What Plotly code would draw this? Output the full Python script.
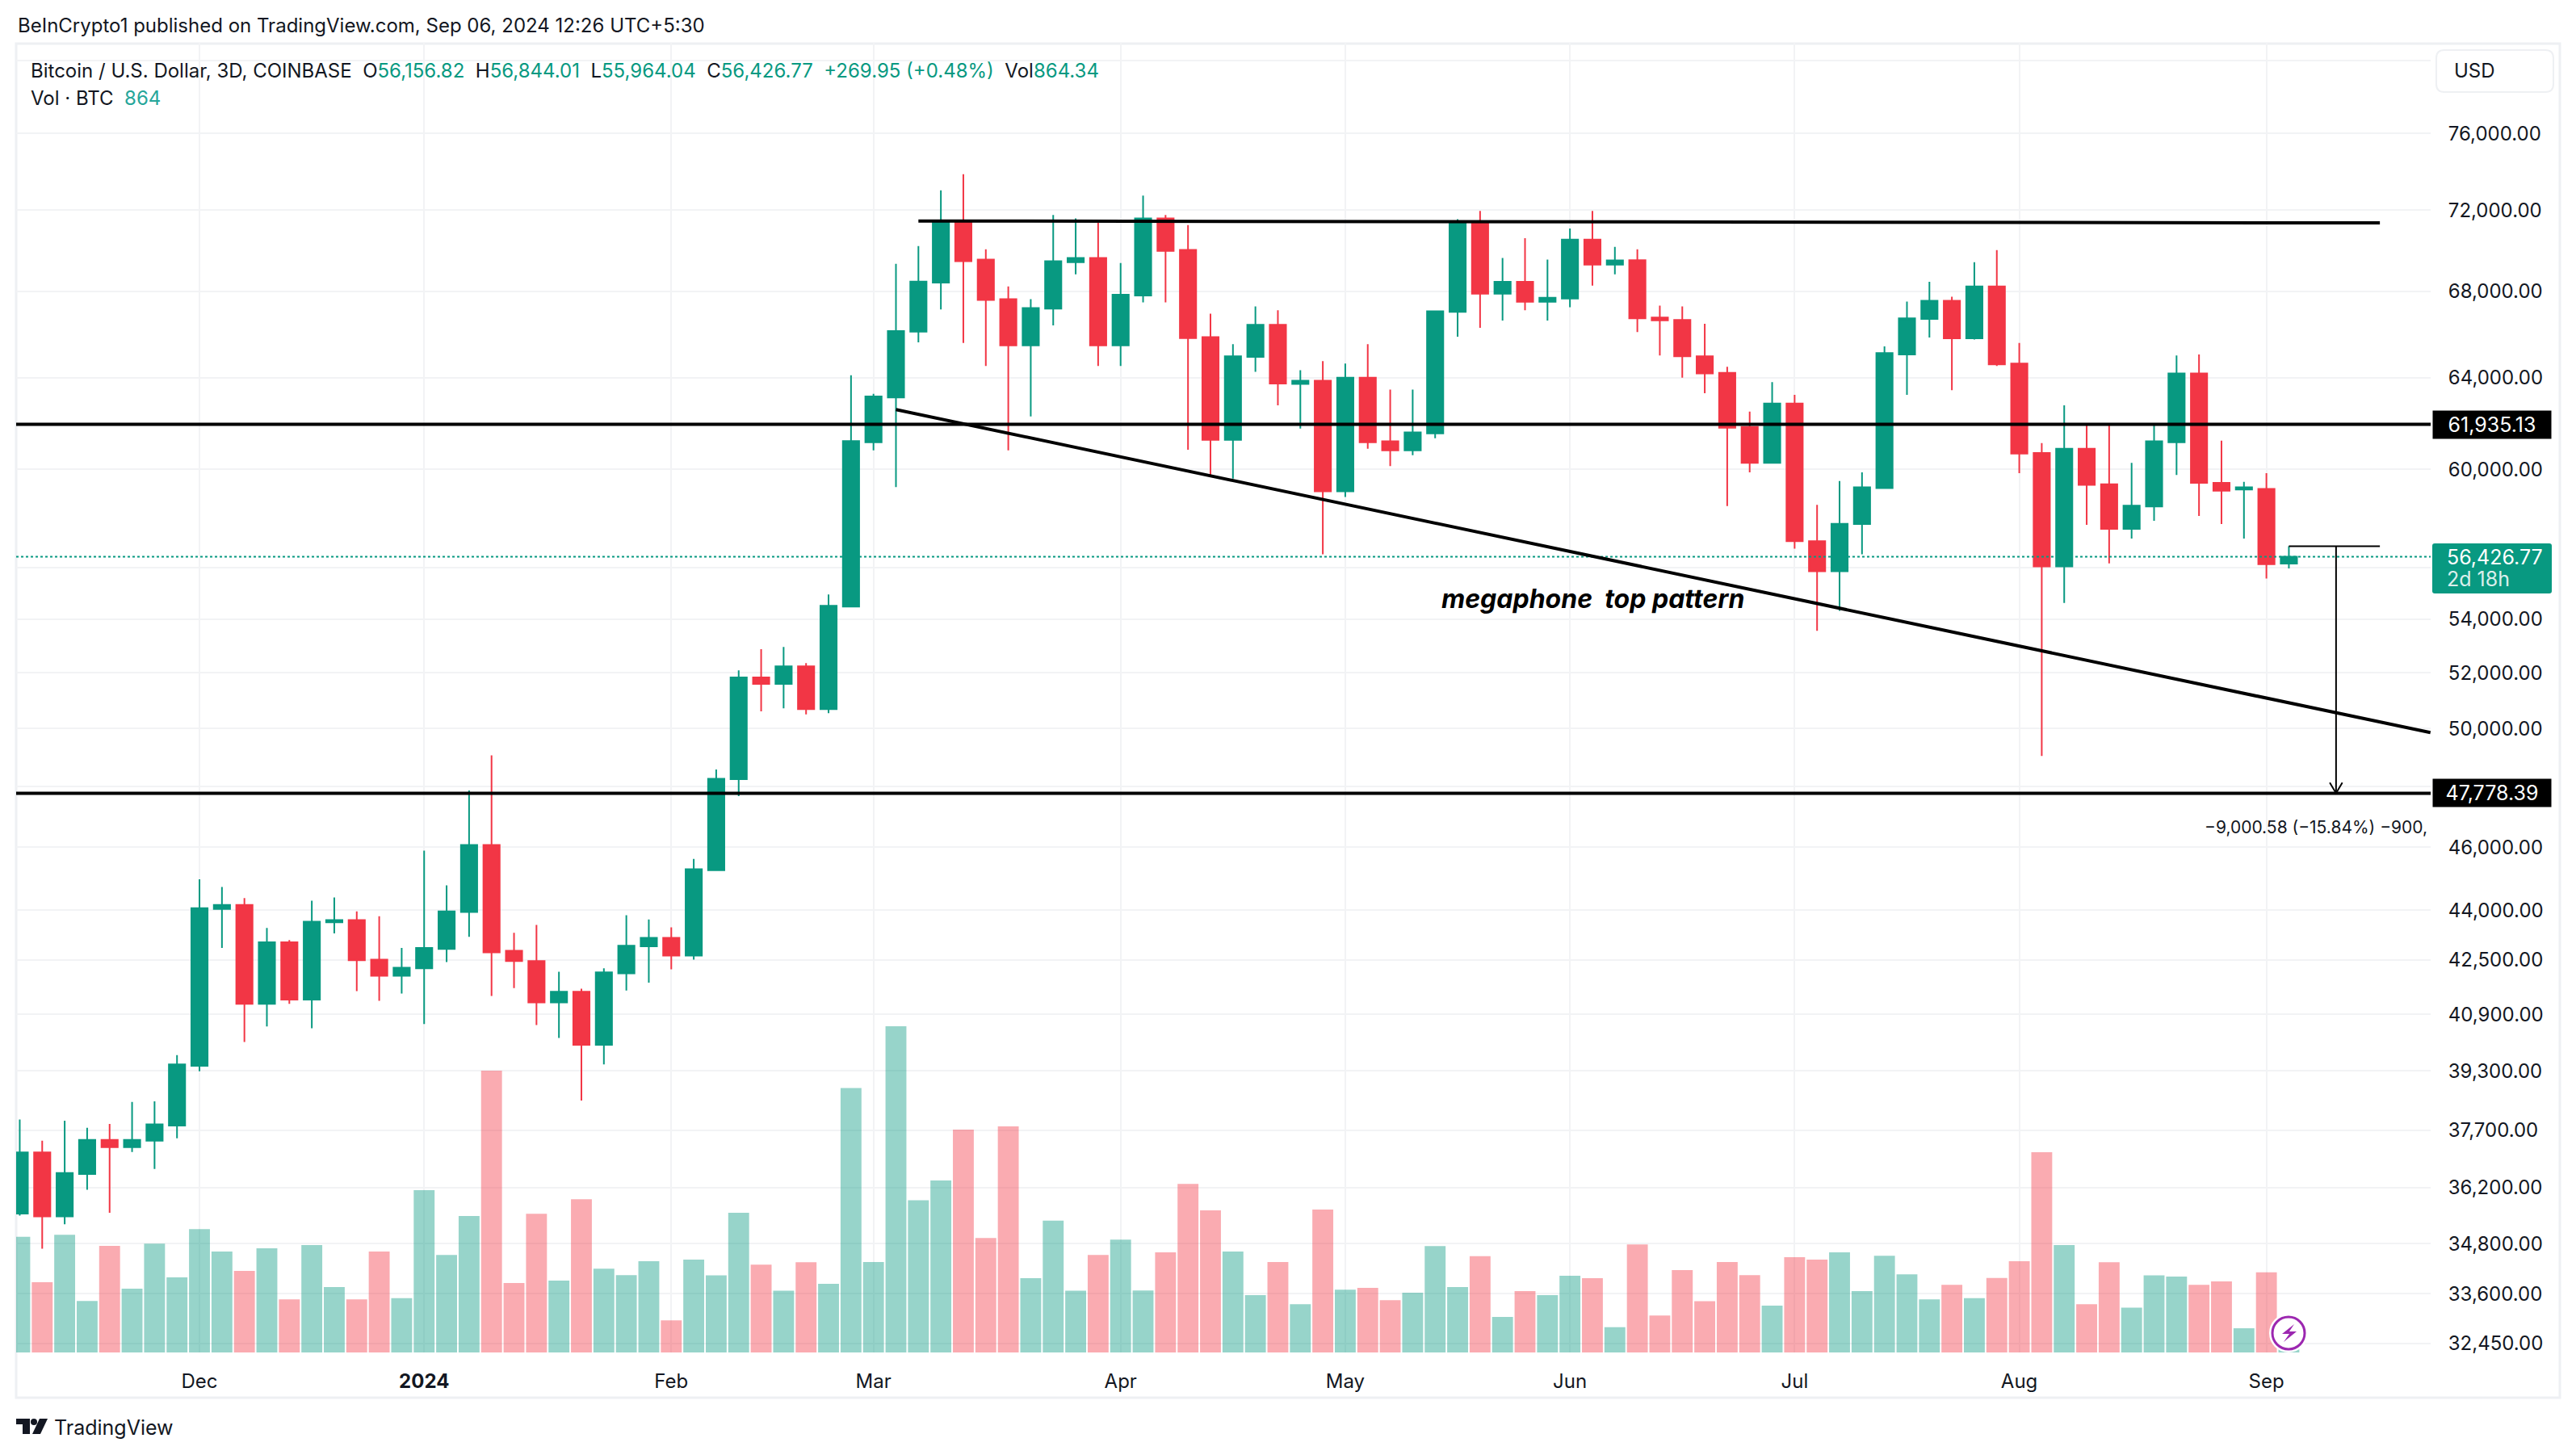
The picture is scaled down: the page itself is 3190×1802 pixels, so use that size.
import math

import pandas as pd
import plotly.graph_objects as go

WIDTH = 3190
HEIGHT = 1802
UP = "#089981"
DOWN = "#F23645"
TEXT = "#131722"
GRID = "#f2f3f5"
FONT = "Inter"

opens = [
    35550, 37110, 35480, 36550, 37440, 37250, 37420, 37820, 39440, 44045, 44170, 41200, 43020, 41320, 43630, 43700, 42500,
    42020, 42240, 42820, 43950, 46070, 42770, 42460, 41240, 41550, 40030, 42090, 42900, 43160, 42620, 45260, 48250, 51830,
    51600, 52240, 50690, 54480, 61160, 63120, 66110, 68430, 71440, 69540, 67630, 65470, 67180, 69420, 69620, 65470, 67810,
    71590, 70020, 65850, 61260, 64940, 66430, 63720, 63860, 59080, 64000, 61200, 60810, 61540, 67030, 71390, 67890, 68470,
    67510, 67660, 70530, 69300, 69510, 66770, 66650, 64970, 64220, 61820, 60280, 62850, 57050, 55850, 57740, 59220, 65050,
    66700, 67560, 65800, 68240, 64640, 60700, 56040, 60880, 59380, 57540, 58460, 61160, 64190, 59440, 59160, 59180, 56156.82,
]
highs = [
    37980, 37420, 37950, 37760, 37860, 38450, 38470, 39740, 44970, 44730, 44380, 43460, 43090, 44300, 44400, 43970, 43820,
    42850, 45890, 44780, 47870, 49070, 43310, 43550, 42140, 41640, 42240, 43850, 43720, 43480, 45620, 48580, 52090, 52870,
    52960, 52360, 54950, 64105, 63280, 69340, 70210, 73010, 73850, 70050, 68240, 67630, 71760, 71590, 71360, 69380, 72750,
    71760, 71250, 66950, 65530, 67290, 67110, 64340, 64750, 64640, 65530, 63470, 63470, 67100, 71550, 71960, 69620, 70600,
    69540, 71080, 71960, 70170, 70050, 67330, 67290, 66470, 64490, 62490, 63800, 63230, 58520, 59510, 59880, 65420, 67520,
    68470, 67750, 69420, 70010, 65580, 61120, 62770, 61930, 61890, 60280, 61930, 65010, 65050, 61230, 59480, 59840, 56844.01,
]
lows = [
    35500, 34680, 35280, 36150, 35570, 37120, 36680, 37480, 39290, 42850, 40110, 40550, 41200, 40500, 43290, 41570, 41290,
    41500, 40620, 42430, 43190, 41430, 41660, 40590, 40220, 38490, 39480, 41590, 41820, 42210, 42500, 45240, 47680, 50610,
    50720, 50500, 50550, 54450, 60810, 59260, 65610, 67150, 65580, 64530, 60810, 62280, 66400, 68830, 64530, 64530, 67480,
    67480, 60840, 59690, 59610, 64260, 62770, 61750, 56520, 58850, 60880, 60140, 60600, 61330, 65870, 66280, 66620, 67110,
    66620, 67250, 68280, 68830, 66090, 65010, 64000, 63300, 58470, 59880, 60250, 56750, 53560, 54320, 56520, 59180, 63230,
    65830, 63440, 65740, 64530, 59840, 49050, 54620, 57710, 56160, 57150, 57870, 59770, 58070, 57740, 57150, 55570, 55964.04,
]
closes = [
    37110, 35480, 36580, 37440, 37250, 37440, 37850, 39480, 44070, 44170, 41200, 43020, 41320, 43650, 43700, 42480, 42020,
    42260, 42850, 43970, 46070, 42720, 42460, 41240, 41550, 40030, 42120, 42920, 43160, 42620, 45290, 48270, 51830, 51600,
    52240, 50690, 54510, 61210, 63160, 66130, 68480, 71470, 69460, 67600, 65470, 67210, 69460, 69620, 65470, 67850, 71590,
    69970, 65810, 61260, 64970, 66430, 63740, 63860, 59080, 64000, 61160, 60810, 61580, 67060, 71390, 67890, 68470, 67510,
    67700, 70530, 69300, 69500, 66730, 66630, 64970, 64190, 61790, 60280, 62850, 57050, 55850, 57750, 59250, 65120, 66730,
    67560, 65800, 68240, 64600, 60670, 56040, 60880, 59350, 57540, 58490, 61200, 64190, 59440, 59110, 59250, 56130, 56426.77,
]
volumes = [
    21000, 12745, 21360, 9340, 19350, 11560, 19760, 13620, 22390, 18320, 14810, 18890, 9650, 19500, 11870, 9650, 18320,
    9860, 29460, 17700, 24770, 51140, 12590, 25180, 13050, 27810, 15220, 14040, 16560, 5830, 16870, 13980, 25340, 15940,
    11200, 16360, 12440, 47990, 16410, 59190, 27610, 31220, 40450, 20790, 41020, 13470, 23940, 11200, 17700, 20490, 11250,
    18160, 30600, 25800, 18320, 10420, 16410, 8770, 25950, 11400, 11710, 9490, 10840, 19300, 11870, 17490, 6450, 11150,
    10420, 13930, 13470, 4590, 19610, 6710, 14960, 9290, 16410, 14040, 8510, 17290, 16870, 18160, 11150, 17540, 14190,
    9650, 12280, 9860, 13520, 16560, 36330, 19500, 8770, 16360, 8150, 13980, 13780, 12280, 12900, 4390, 14550, 864,
]

price_ticks = [
    32450, 33600, 34800, 36200, 37700, 39300, 40900, 42500, 44000, 46000, 48000, 50000, 52000, 54000, 56000, 60000, 64000,
    68000, 72000, 76000, 80000,
]
hidden_price_ticks = [56000, 80000]
month_bars = [8, 18, 29, 38, 49, 59, 69, 79, 89, 100]
month_labels = ["Dec", "<b>2024</b>", "Feb", "Mar", "Apr", "May", "Jun", "Jul", "Aug", "Sep"]

support_level = 47778.39
middle_level = 61935.13
last_price = 56426.77
top_line_bars = [40, 105.05]
top_line_prices = [71460, 71360]
trend_line_bars = [39, 107.3]
trend_line_prices = [62580, 49860]
target_bars = [101, 105.05]
target_top = 56844.01
arrow_bar = 103.1

dates = pd.date_range("2023-11-08", periods=len(closes), freq="3D")


def bar_date(i):
    return dates[0] + pd.Timedelta(days=3 * i)


def px(x):
    return x / WIDTH


def py(y):
    return 1 - y / HEIGHT


def path(points):
    return "M " + " L ".join(f"{px(x):.5f},{py(y):.5f}" for x, y in points) + " Z"


def round_rect(x0, y0, x1, y1, r):
    a, b, c, d = px(x0), py(y0), px(x1), py(y1)
    rx, ry = r / WIDTH, r / HEIGHT
    return (
        f"M {a + rx:.5f},{b:.5f} L {c - rx:.5f},{b:.5f} Q {c:.5f},{b:.5f} {c:.5f},{b - ry:.5f} "
        f"L {c:.5f},{d + ry:.5f} Q {c:.5f},{d:.5f} {c - rx:.5f},{d:.5f} L {a + rx:.5f},{d:.5f} "
        f"Q {a:.5f},{d:.5f} {a:.5f},{d + ry:.5f} L {a:.5f},{b - ry:.5f} Q {a:.5f},{b:.5f} {a + rx:.5f},{b:.5f} Z"
    )


def note(text, x, y, size=24, color=TEXT, xanchor="left", **kwargs):
    fig.add_annotation(
        text=text, x=px(x), y=py(y), xref="paper", yref="paper", xanchor=xanchor, yanchor="middle",
        showarrow=False, align="left", font=dict(family=FONT, size=size, color=color), **kwargs,
    )


def add_line(x, y, width=4, dash="solid", color="#000000"):
    fig.add_trace(
        go.Scatter(
            x=x, y=y, yaxis="y2", mode="lines", hoverinfo="skip", showlegend=False,
            line=dict(color=color, width=width, dash=dash),
        )
    )


pane_start = bar_date(-0.16)
pane_end = bar_date(107.31)

fig = go.Figure()
fig.add_trace(
    go.Bar(
        x=dates, y=volumes, yaxis="y", showlegend=False,
        marker=dict(
            color=[
                "rgba(8,153,129,0.42)" if c >= o else "rgba(242,54,69,0.42)" for o, c in zip(opens, closes)
            ],
            line=dict(width=0),
        ),
    )
)
fig.add_trace(
    go.Candlestick(
        x=dates, open=opens, high=highs, low=lows, close=closes, yaxis="y2", showlegend=False, whiskerwidth=0,
        increasing=dict(line=dict(color=UP, width=2), fillcolor=UP),
        decreasing=dict(line=dict(color=DOWN, width=2), fillcolor=DOWN),
    )
)
add_line([pane_start, pane_end], [last_price, last_price], width=2, dash="dot", color=UP)
add_line([pane_start, pane_end], [middle_level, middle_level])
add_line([pane_start, pane_end], [support_level, support_level])
add_line([bar_date(i) for i in top_line_bars], top_line_prices)
add_line([bar_date(i) for i in trend_line_bars], trend_line_prices)
add_line([bar_date(i) for i in target_bars], [target_top, target_top], width=2)
add_line([bar_date(arrow_bar), bar_date(arrow_bar)], [target_top, support_level], width=2)
add_line(
    [bar_date(arrow_bar - 0.28), bar_date(arrow_bar), bar_date(arrow_bar + 0.28)],
    [support_level * 1.0075, support_level, support_level * 1.0075],
    width=2,
)

fig.update_layout(
    width=WIDTH,
    height=HEIGHT,
    autosize=False,
    margin=dict(l=0, r=0, t=0, b=0, autoexpand=False),
    paper_bgcolor="white",
    plot_bgcolor="white",
    font=dict(family=FONT, size=24, color=TEXT),
    bargap=0.07,
    boxgap=0.15,
    boxgroupgap=0.15,
    xaxis=dict(
        domain=[px(20), px(3010)],
        type="date",
        range=[pane_start, pane_end],
        rangeslider=dict(visible=False),
        tickmode="array",
        tickvals=[dates[i] for i in month_bars],
        ticktext=month_labels,
        showgrid=True,
        gridcolor=GRID,
        gridwidth=2,
        zeroline=False,
        showline=False,
        ticks="outside",
        ticklen=14,
        tickcolor="rgba(0,0,0,0)",
        tickfont=dict(family=FONT, size=24, color=TEXT),
    ),
    yaxis=dict(
        domain=[py(1675), py(53)],
        range=[0, 237700],
        visible=False,
        showgrid=False,
        zeroline=False,
    ),
    yaxis2=dict(
        domain=[py(1675), py(53)],
        overlaying="y",
        anchor="x",
        side="right",
        type="log",
        range=[math.log10(32240), math.log10(81000)],
        tickmode="array",
        tickvals=price_ticks,
        ticktext=["" if t in hidden_price_ticks else f"{t:,.2f}" for t in price_ticks],
        showgrid=True,
        gridcolor=GRID,
        gridwidth=2,
        zeroline=False,
        showline=False,
        ticks="outside",
        ticklen=16,
        tickcolor="rgba(0,0,0,0)",
        tickfont=dict(family=FONT, size=24, color=TEXT),
    ),
)

# frame, currency box and price labels
fig.add_shape(type="rect", xref="paper", yref="paper", x0=px(20), x1=px(3170), y0=py(1731), y1=py(54),
              line=dict(color="#eef0f3", width=3), layer="below")
fig.add_shape(type="path", xref="paper", yref="paper", path=round_rect(3017, 62, 3162, 114, 10),
              fillcolor="white", line=dict(color="#eef0f3", width=2))
note("USD", 3037, 87, size=24)

for level, label in [(middle_level, "61,935.13"), (support_level, "47,778.39")]:
    fig.add_annotation(
        text=label, x=px(3012), xref="paper", y=math.log10(level), yref="y2", xanchor="left", yanchor="middle",
        showarrow=False, width=146, height=34, bgcolor="#000000", borderpad=0, align="center",
        font=dict(family=FONT, size=25, color="white"),
    )

fig.add_shape(type="path", xref="paper", yref="paper", path=round_rect(3012, 673, 3160, 735, 3),
              fillcolor=UP, line=dict(width=0))
note("56,426.77", 3028, 690, size=25, color="white")
note("2d 18h", 3028, 717, size=25, color="white", opacity=0.85)

# header and legend
note("BeInCrypto1 published on TradingView.com, Sep 06, 2024 12:26 UTC+5:30", 20, 32, size=24)
green = f'<span style="color:{UP}">'
note(
    f"Bitcoin / U.S. Dollar, 3D, COINBASE\u00a0\u00a0O{green}56,156.82</span>\u00a0\u00a0H{green}56,844.01</span>"
    f"\u00a0\u00a0L{green}55,964.04</span>\u00a0\u00a0C{green}56,426.77</span>\u00a0\u00a0{green}+269.95 (+0.48%)</span>"
    f"\u00a0\u00a0Vol{green}864.34</span>",
    36, 87, size=24,
)
note(f'Vol · BTC\u00a0\u00a0<span style="color:#26a69a">864</span>', 36, 121, size=24)

# drawing labels
fig.add_annotation(
    text="<b><i>megaphone\u00a0\u00a0top pattern</i></b>", x=bar_date(63.2), y=math.log10(54800), xref="x", yref="y2",
    xanchor="left", yanchor="middle", showarrow=False, font=dict(family=FONT, size=32, color="#000000"),
)
note("\u22129,000.58 (\u221215.84%) \u2212900,", 3008, 1024, size=21, xanchor="right")

# lightning icon on the last bar
fig.add_shape(type="circle", xref="paper", yref="paper", x0=px(2810), x1=px(2858), y0=py(1675), y1=py(1627),
              fillcolor="white", line=dict(width=0))
fig.add_shape(type="circle", xref="paper", yref="paper", x0=px(2814), x1=px(2854), y0=py(1671), y1=py(1631),
              fillcolor="white", line=dict(color="#9c27b0", width=3))
fig.add_shape(type="path", xref="paper", yref="paper", fillcolor="#9c27b0", line=dict(width=0),
              path=path([(2841, 1640), (2826, 1652), (2835, 1652), (2828, 1662), (2844, 1649), (2835, 1649)]))

# TradingView logo
logo = [
    [(20, 1757), (37, 1757), (37, 1776), (28, 1776), (28, 1764), (20, 1764)],
    [(59, 1757), (50, 1776), (40, 1776), (49, 1757)],
]
for points in logo:
    fig.add_shape(type="path", xref="paper", yref="paper", fillcolor=TEXT, line=dict(width=0), path=path(points))
fig.add_shape(type="circle", xref="paper", yref="paper", x0=px(38), x1=px(46), y0=py(1765), y1=py(1757),
              fillcolor=TEXT, line=dict(width=0))
note("TradingView", 65, 1768, size=25)

fig.write_html(
    "out.html",
    config={"displayModeBar": False},
    post_script="document.body.style.margin='0';document.body.style.overflow='hidden';",
)
